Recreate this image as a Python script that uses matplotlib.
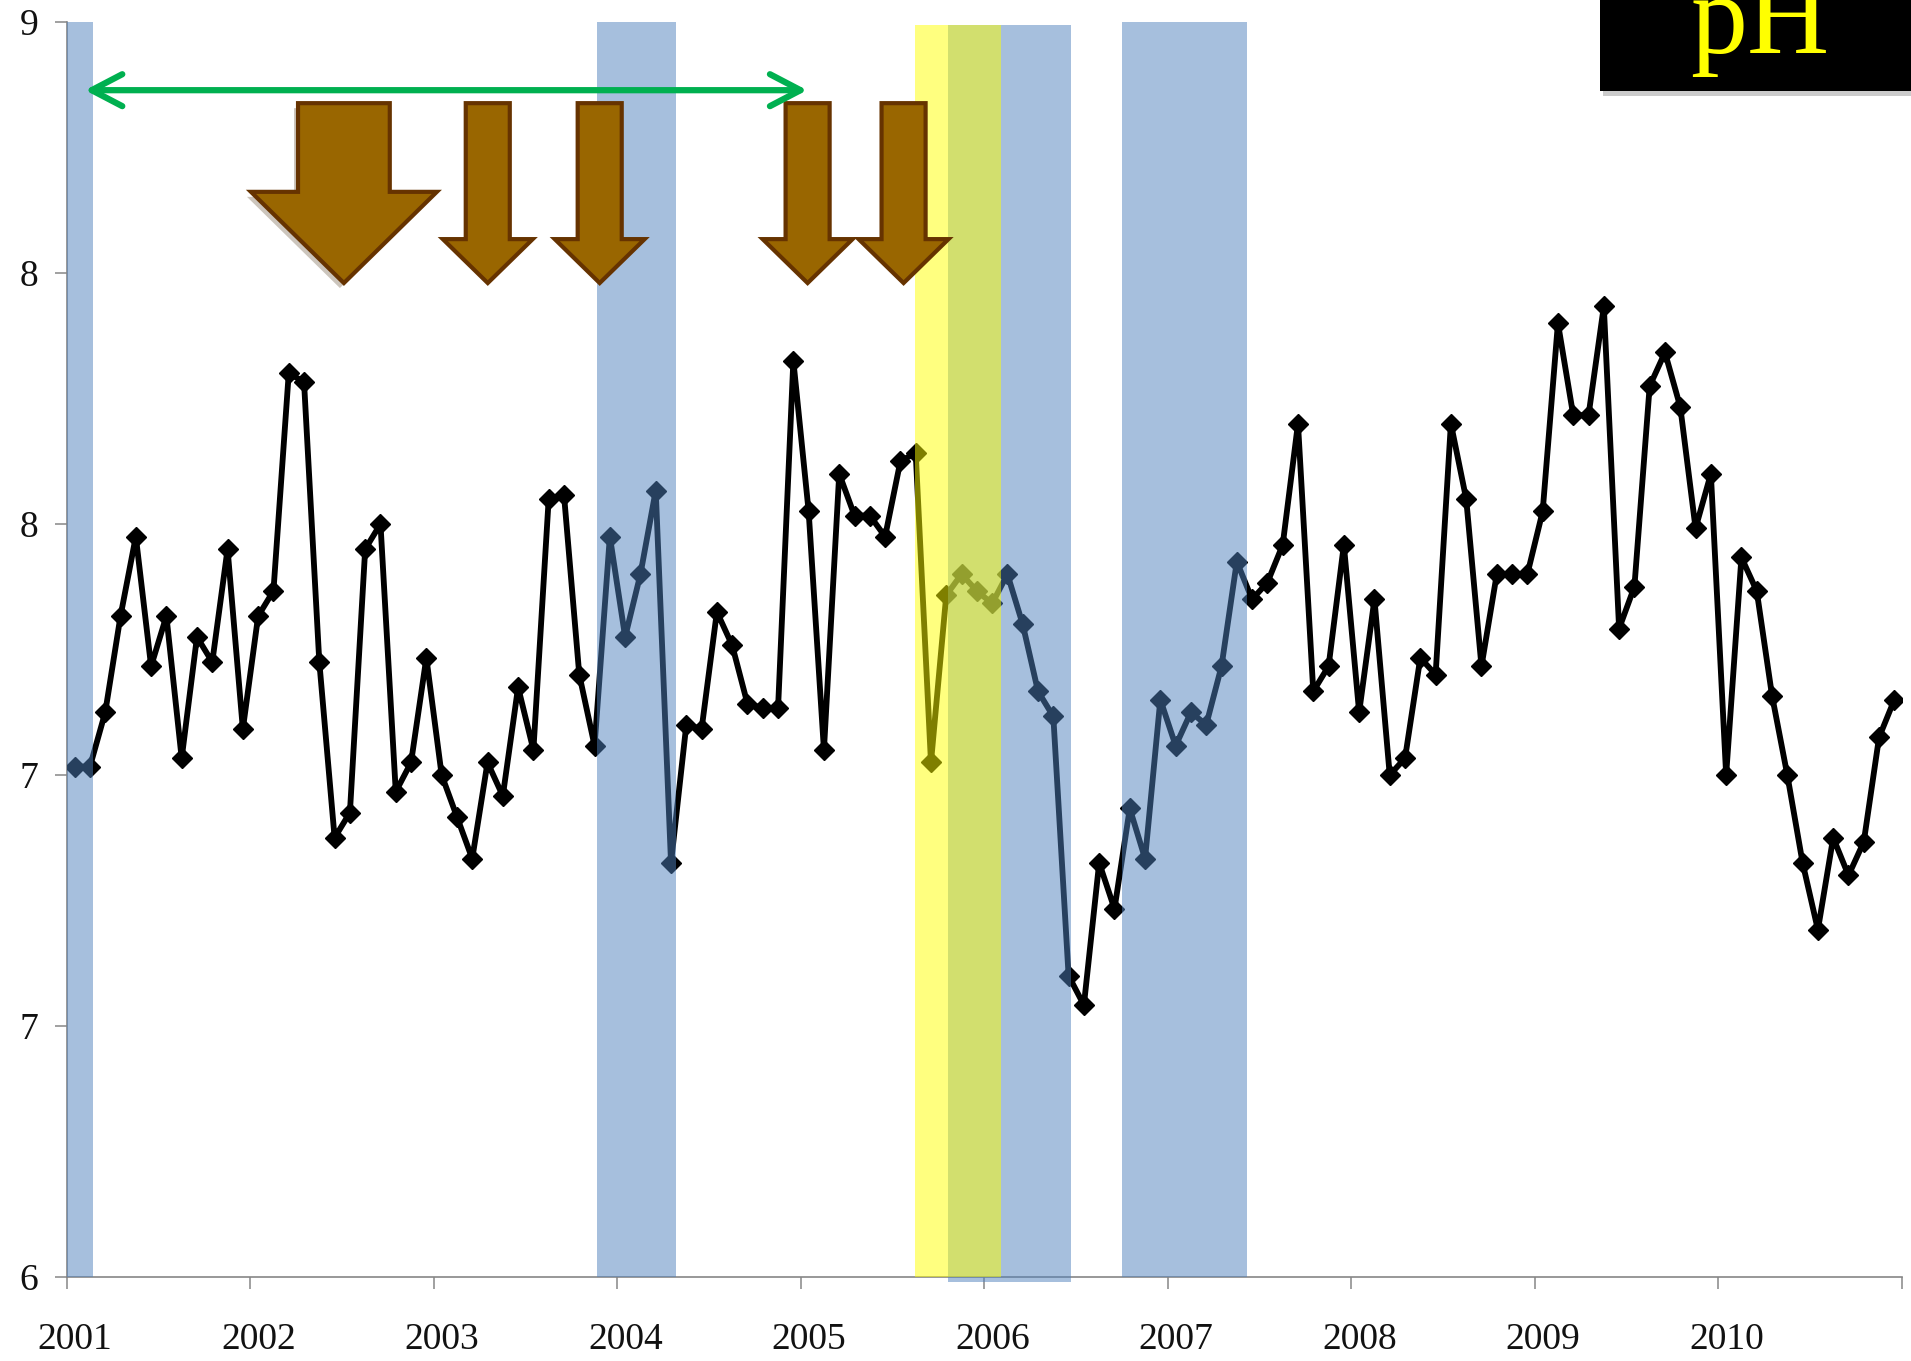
import numpy as np
import matplotlib
matplotlib.use('Agg')
import matplotlib.pyplot as plt
from matplotlib.patches import Polygon, Rectangle, FancyArrowPatch
import matplotlib.transforms as mtransforms

# ---------------- data ----------------
ph_2001 = [7.22, 7.22, 7.35, 7.58, 7.77, 7.46, 7.58, 7.24, 7.53, 7.47, 7.74, 7.31]
ph_2002 = [7.58, 7.64, 8.16, 8.14, 7.47, 7.05, 7.11, 7.74, 7.80, 7.16, 7.23, 7.48]
ph_2003 = [7.20, 7.10, 7.00, 7.23, 7.15, 7.41, 7.26, 7.86, 7.87, 7.44, 7.27, 7.77]
ph_2004 = [7.53, 7.68, 7.88, 6.99, 7.32, 7.31, 7.59, 7.51, 7.37, 7.36, 7.36, 8.19]
ph_2005 = [7.83, 7.26, 7.92, 7.82, 7.82, 7.77, 7.95, 7.97, 7.23, 7.63, 7.68, 7.64]
ph_2006 = [7.61, 7.68, 7.56, 7.40, 7.34, 6.72, 6.65, 6.99, 6.88, 7.12, 7.00, 7.38]
ph_2007 = [7.27, 7.35, 7.32, 7.46, 7.71, 7.62, 7.66, 7.75, 8.04, 7.40, 7.46, 7.75]
ph_2008 = [7.35, 7.62, 7.20, 7.24, 7.48, 7.44, 8.04, 7.86, 7.46, 7.68, 7.68, 7.68]
ph_2009 = [7.83, 8.28, 8.06, 8.06, 8.32, 7.55, 7.65, 8.13, 8.21, 8.08, 7.79, 7.92]
ph_2010 = [7.20, 7.72, 7.64, 7.39, 7.20, 6.99, 6.83, 7.05, 6.96, 7.04, 7.29, 7.38]
ph = (ph_2001 + ph_2002 + ph_2003 + ph_2004 + ph_2005 +
      ph_2006 + ph_2007 + ph_2008 + ph_2009 + ph_2010)

year_ticks = [2001, 2002, 2003, 2004, 2005, 2006, 2007, 2008, 2009, 2010, 2011]
year_labels = ['2001', '2002', '2003', '2004', '2005', '2006', '2007', '2008', '2009', '2010', '']
y_ticks = [6.0, 6.6, 7.2, 7.8, 8.4, 9.0]
y_tick_labels = ['6', '7', '7', '8', '8', '9']

# shaded periods: (start year, end year, bottom, top)
blue_periods = [(2001.00, 2001.14, 6.0, 9.0),
                (2003.89, 2004.32, 6.0, 9.0),
                (2005.80, 2006.47, 5.988, 8.994),
                (2006.75, 2007.43, 6.0, 9.0)]
yellow_periods = [(2005.62, 2006.09, 6.0, 8.994)]

# brown down-arrows: centre year, big?
arrow_centers = [2002.509, 2003.293, 2003.903, 2005.036, 2005.559]
arrow_is_big = [True, False, False, False, False]

# green double arrow span
green_span = (2001.098, 2005.034, 8.837)

# ---------------- figure ----------------
W, H = 1911, 1361
fig = plt.figure(figsize=(W / 100, H / 100), dpi=100)
fig.patch.set_facecolor('white')
ax = fig.add_axes([67 / W, 84 / H, (1902 - 67) / W, (1277 - 22) / H])

x = 2001 + (np.arange(len(ph)) + 0.5) / 12
ax.plot(x, ph, color='black', lw=4.2, marker='D', ms=10, zorder=2)

for x0, x1, y0, y1 in blue_periods:
    ax.add_patch(Rectangle((x0, y0), x1 - x0, y1 - y0, facecolor='#4F81BD',
                           alpha=0.5, edgecolor='none', zorder=3, clip_on=False))
for x0, x1, y0, y1 in yellow_periods:
    ax.add_patch(Rectangle((x0, y0), x1 - x0, y1 - y0, facecolor='#FFFF00',
                           alpha=0.5, edgecolor='none', zorder=3.5, clip_on=False))

# brown block arrows
top, tip = 8.806, 8.376
for cx, big in zip(arrow_centers, arrow_is_big):
    if big:
        sw, hw, hs = 0.25, 0.5065, 8.594
    else:
        sw, hw, hs = 0.12, 0.245, 8.481
    pts = [(cx - sw, top), (cx - sw, hs), (cx - hw, hs), (cx, tip),
           (cx + hw, hs), (cx + sw, hs), (cx + sw, top)]
    if big:
        sh = Polygon(pts, closed=True, facecolor='#6e5a40', edgecolor='none',
                     alpha=0.35, zorder=4.5,
                     transform=ax.transData + mtransforms.ScaledTranslation(-4 / 100, -5 / 100, fig.dpi_scale_trans))
        ax.add_patch(sh)
    ax.add_patch(Polygon(pts, closed=True, facecolor='#996600', edgecolor='#663300',
                         lw=3, joinstyle='miter', zorder=5))

# green double arrow
g = FancyArrowPatch((green_span[0], green_span[2]), (green_span[1], green_span[2]),
                    arrowstyle='<->,head_length=2.2,head_width=1.15', mutation_scale=10,
                    color='#00B050', lw=4.5, zorder=6, shrinkA=0, shrinkB=0)
ax.add_patch(g)

# axes styling
ax.set_xlim(2001, 2011)
ax.set_ylim(6, 9)
for s in ['top', 'right']:
    ax.spines[s].set_visible(False)
for s in ['left', 'bottom']:
    ax.spines[s].set_color('#868686')
    ax.spines[s].set_linewidth(1.2)
    ax.spines[s].set_zorder(1)

ax.set_xticks(year_ticks, labels=year_labels)
ax.set_yticks(y_ticks, labels=y_tick_labels)
ax.tick_params(axis='x', length=8.6, width=1.1, color='#868686', pad=24,
               labelsize=27, labelcolor='#111111')
ax.tick_params(axis='y', length=8.6, width=1.1, color='#868686', pad=12,
               labelsize=27, labelcolor='#111111')
for lab in ax.get_xticklabels() + ax.get_yticklabels():
    lab.set_fontfamily('Liberation Serif')
for lab in ax.get_xticklabels():
    lab.set_transform(lab.get_transform() + mtransforms.ScaledTranslation(8 / 100, 0, fig.dpi_scale_trans))

# pH box
fig.patches.append(Rectangle((1603 / W, 1 - 96 / H), (W - 1603) / W, 96 / H,
                             transform=fig.transFigure, facecolor='#999999',
                             alpha=0.5, edgecolor='none', zorder=9))
fig.patches.append(Rectangle((1600 / W, 1 - 91 / H), (W - 1600) / W, 91 / H,
                             transform=fig.transFigure, facecolor='black',
                             edgecolor='none', zorder=10))
fig.text(1760 / W, 1 - 53 / H, 'pH', ha='center', va='baseline', color='#FFFF00',
         fontsize=82, family='Liberation Serif', zorder=11)

fig.savefig('out.png', dpi=100)
